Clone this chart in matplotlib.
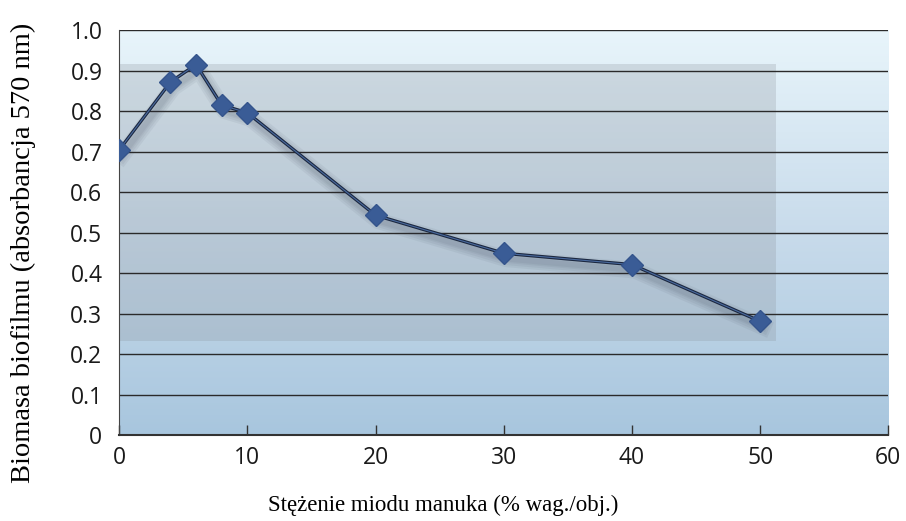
import numpy as np
import matplotlib.pyplot as plt
import matplotlib.patheffects as pe
from matplotlib.colors import LinearSegmentedColormap
from matplotlib.patches import Rectangle

# Honey concentration vs. biofilm biomass
concentration = [0, 4, 6, 8, 10, 20, 30, 40, 50]
biomass = [0.704, 0.872, 0.915, 0.815, 0.796, 0.543, 0.449, 0.421, 0.281]

x_ticks = [0, 10, 20, 30, 40, 50, 60]
y_ticks = [0, 0.1, 0.2, 0.3, 0.4, 0.5, 0.6, 0.7, 0.8, 0.9, 1.0]
y_labels = ['0', '0.1', '0.2', '0.3', '0.4', '0.5', '0.6', '0.7', '0.8', '0.9', '1.0']

fig = plt.figure(figsize=(9.06, 5.21), dpi=100)
ax = fig.add_axes([0.1315, 0.165, 0.849, 0.777])

# vertical gradient background
grad = LinearSegmentedColormap.from_list('bg', ['#a8c6de', '#c8dbeb', '#e8f5fb'])
ax.imshow(np.linspace(0, 1, 256).reshape(-1, 1), cmap=grad, origin='lower',
          aspect='auto', extent=[0, 60, 0, 1.0], zorder=0)

# translucent grey panel behind the curve
ax.add_patch(Rectangle((0, 0.233), 51.2, 0.683, facecolor='#8a9098',
                       alpha=0.25, edgecolor='none', zorder=1))

for y in y_ticks[1:]:
    ax.axhline(y, color='#2a2a2a', lw=1.0, zorder=2)

# soft drop shadow built from a few wide, faint strokes
shadow = [pe.SimpleLineShadow(offset=(2, -4), shadow_color='#2a3345', alpha=0.06,
                              linewidth=w) for w in (12, 9, 6, 4)]
ax.plot(concentration, biomass, color='#1c2840', lw=2.4, zorder=4,
        path_effects=shadow + [pe.Normal()])
ax.plot(concentration, biomass, color='#4a6a9e', lw=0.8, zorder=4)
ax.plot(concentration, biomass, linestyle='none', marker='D', markersize=11,
        color='#3a5c96', markeredgecolor='#34548c', zorder=5)

ax.set_xlim(0, 60)
ax.set_ylim(0, 1.0)
ax.set_xticks(x_ticks)
ax.set_yticks(y_ticks)
ax.set_yticklabels(y_labels)

for side in ['top', 'right']:
    ax.spines[side].set_visible(False)
ax.spines['left'].set_color('#444444')
ax.spines['bottom'].set_color('#333333')
ax.spines['bottom'].set_linewidth(1.5)

tick_font = ['Liberation Sans Narrow', 'Open Sans']
ax.tick_params(axis='x', direction='in', length=7, width=1, color='#333333',
               labelsize=16.5, pad=8)
ax.tick_params(axis='y', length=0, labelsize=16.5, pad=12)
for lbl in ax.get_xticklabels() + ax.get_yticklabels():
    lbl.set_fontfamily(tick_font)
    lbl.set_color('#1a1a1a')

ax.set_xlabel('Stężenie miodu manuka (% wag./obj.)', fontfamily='Liberation Serif',
              fontsize=16.5)
ax.set_ylabel('Biomasa biofilmu (absorbancja 570 nm)', fontfamily='Liberation Serif',
              fontsize=20.5)
ax.xaxis.set_label_coords(0.421, -0.148)
ax.yaxis.set_label_coords(-0.108, 0.45)

fig.savefig('out.png', dpi=100)
